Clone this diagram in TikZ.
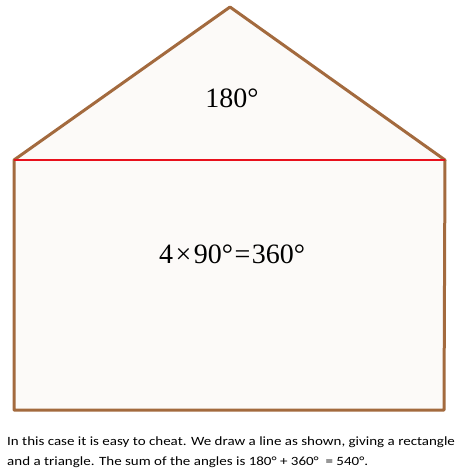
\documentclass[tikz,border=0pt]{standalone}
\usepackage{fontspec}
\setmainfont{Carlito}
\newfontfamily\serifmath{Liberation Serif}
\newfontfamily\capfont[FakeStretch=1.19]{Carlito}
\definecolor{edgebrown}{HTML}{A36A3E}
\definecolor{lightfill}{HTML}{FCFAF8}
\definecolor{divred}{HTML}{E8101C}
\begin{document}
\begin{tikzpicture}[x=1pt,y=-1pt,
  outline/.style={draw=edgebrown,line width=3pt,line join=round,fill=lightfill},
  divider/.style={draw=divred,line width=2pt},
  bigtext/.style={font=\serifmath\fontsize{28}{32}\selectfont,inner sep=0pt},
  caption/.style={font=\capfont\fontsize{12.6}{14}\selectfont,inner sep=0pt,anchor=base west}]
\useasboundingbox (0,0) rectangle (463,472);
\coordinate (apex) at (230,7);
\coordinate (ls) at (14,160);
\coordinate (rs) at (445,160);
\coordinate (bl) at (14,410);
\coordinate (br) at (444,410);
\draw[outline] (apex) -- (rs) -- (br) -- (bl) -- (ls) -- cycle;
\draw[divider] (ls) -- (rs);
\node[bigtext] (tri) at (232,98) {180°};
\node[bigtext] (rect) at (232,254) {4\kern2.5pt×\kern2.5pt90°\kern1.5pt=\kern1.5pt360°};
\node[caption] (cap1) at (7,445.5) {In this case it is easy to cheat. We draw a line as shown, giving a rectangle};
\node[caption] (cap2) at (7,465) {and a triangle. The sum of the angles is 180° + 360°\ \ = 540°.};
\end{tikzpicture}
\end{document}
